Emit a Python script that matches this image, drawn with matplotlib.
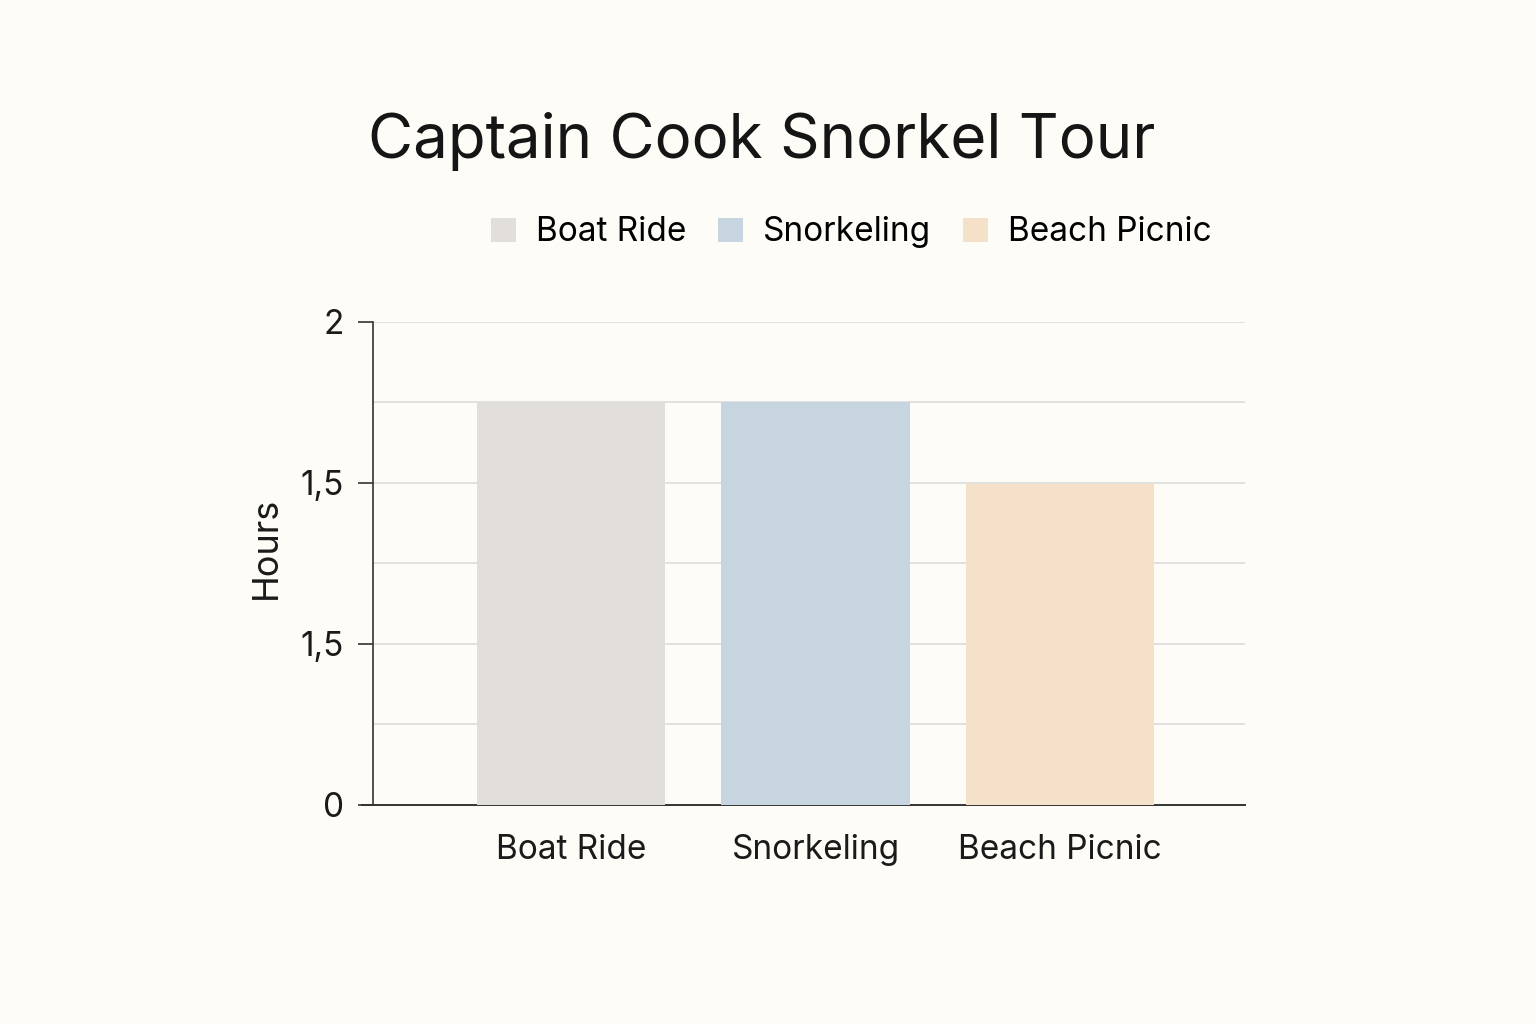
import numpy as np
import matplotlib
matplotlib.use("Agg")
import matplotlib.pyplot as plt
from matplotlib.patches import Patch

# data
activities = ["Boat Ride", "Snorkeling", "Beach Picnic"]
hours = [1.67, 1.67, 1.33]
bar_colors = ["#E2DFDA", "#C6D5E0", "#F5E1CA"]
ytick_values = [0, 2 / 3, 4 / 3, 2]
ytick_labels = ["0", "1,5", "1,5", "2"]

plt.rcParams["font.family"] = ["Inter", "DejaVu Sans"]
bg = "#FDFCF7"

fig = plt.figure(figsize=(15.36, 10.24), dpi=100, facecolor=bg)
ax = fig.add_axes([0.2428, 0.2139, 0.5677, 0.4717], facecolor=bg)

x = np.arange(len(activities))
ax.bar(x, hours, width=0.77, color=bar_colors, zorder=3)

# light gridlines every third of an hour
ax.set_ylim(0, 2)
ax.set_xlim(-0.81, 2.755)
for g in np.arange(1, 7) / 3:
    ax.axhline(g, color="#DCDCDC", linewidth=1.2, zorder=1)

ax.set_yticks(ytick_values)
ax.set_yticklabels(ytick_labels, fontsize=24, color="#1A1A1A")
ax.set_xticks(x)
ax.set_xticklabels(activities, fontsize=24, color="#1A1A1A")
ax.tick_params(axis="x", length=0, pad=21)
ax.tick_params(axis="y", length=11, width=1.2, color="#333333", pad=10)

for side in ["top", "right"]:
    ax.spines[side].set_visible(False)
ax.spines["left"].set_color("#333333")
ax.spines["bottom"].set_color("#333333")
ax.spines["left"].set_linewidth(1.2)
ax.spines["bottom"].set_linewidth(1.4)
ax.spines["bottom"].set_bounds(-0.855, 2.755)

ax.set_ylabel("Hours", fontsize=26, color="#1A1A1A")
ax.yaxis.set_label_coords(-0.103, 0.532)

fig.text(0.496, 0.862, "Captain Cook Snorkel Tour", ha="center", va="center",
         fontsize=44.5, color="#151515")

handles = [Patch(facecolor=c, edgecolor="none") for c in bar_colors]
fig.legend(handles, activities, loc="center", bbox_to_anchor=(0.5544, 0.773),
           ncol=3, frameon=False, fontsize=24, handlelength=0.75,
           handleheight=0.75, handletextpad=0.6, columnspacing=0.95)

fig.savefig("out.png", dpi=100, facecolor=bg)
